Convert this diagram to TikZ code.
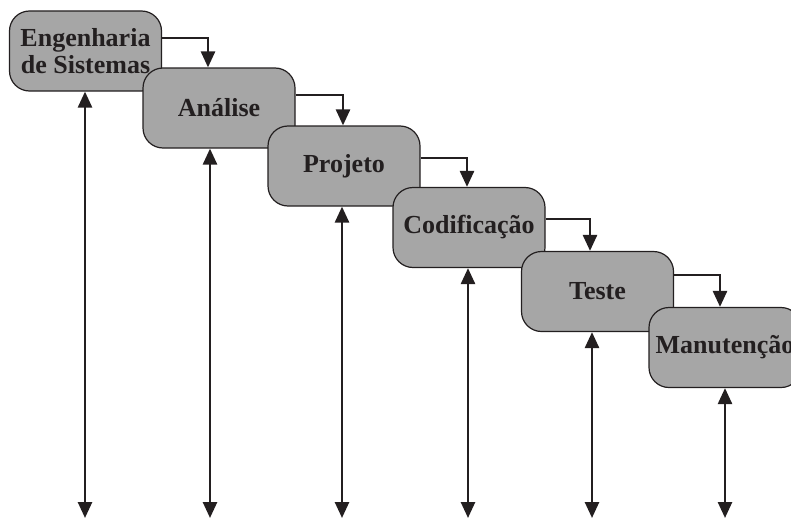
\documentclass[tikz,border=0pt]{standalone}
\usepackage{fontspec}
\setmainfont{Liberation Serif}
\usetikzlibrary{arrows.meta}
\definecolor{boxgray}{HTML}{A6A6A6}
\definecolor{ink}{HTML}{231F20}
\tikzset{
  phase/.style={draw=ink, line width=1.2pt, fill=boxgray, rounded corners=20pt,
    minimum width=152pt, minimum height=80pt, inner sep=0pt, align=center,
    font=\fontsize{26}{27}\selectfont\bfseries, text=ink},
  tip/.style={Triangle[length=16pt,width=14pt]},
  arr/.style={draw=ink, line width=2.6pt, -{Triangle[length=16pt,width=14pt]}},
  darr/.style={draw=ink, line width=2.6pt, {Triangle[length=16pt,width=14pt]}-{Triangle[length=16pt,width=14pt]}}
}
\begin{document}
\begin{tikzpicture}[x=1pt,y=-1pt]
\useasboundingbox (0,0) rectangle (791,519);
\clip (0,0) rectangle (791,519);
\node[phase] (b1) at (85.5,51) {Engenharia\\de Sistemas};
\node[phase] (b2) at (219,108) {Análise};
\node[phase] (b3) at (344,166) {Projeto};
\node[phase] (b4) at (469,227.5) {Codificação};
\node[phase] (b5) at (597.5,291.5) {Teste};
\node[phase] (b6) at (725,347.5) {Manutenção};
% cascade connectors
\draw[arr] (b1.east |- 0,38) -| (b2.north -| 208,0);
\draw[arr] (b2.east |- 0,95) -| (b3.north -| 343,0);
\draw[arr] (b3.east |- 0,158) -| (b4.north -| 467,0);
\draw[arr] (b4.east |- 0,219) -| (b5.north -| 590,0);
\draw[arr] (b5.east |- 0,275) -| (b6.north -| 720,0);
% feedback / vertical arrows
\coordinate (e1) at (85,518);
\coordinate (e2) at (210,518);
\coordinate (e3) at (342,518);
\coordinate (e4) at (468,518);
\coordinate (e5) at (592,518);
\coordinate (e6) at (725,518);
\draw[darr] (b1.south -| e1) -- (e1);
\draw[darr] (b2.south -| e2) -- (e2);
\draw[darr] (b3.south -| e3) -- (e3);
\draw[darr] (b4.south -| e4) -- (e4);
\draw[darr] (b5.south -| e5) -- (e5);
\draw[darr] (b6.south -| e6) -- (e6);
\end{tikzpicture}
\end{document}
